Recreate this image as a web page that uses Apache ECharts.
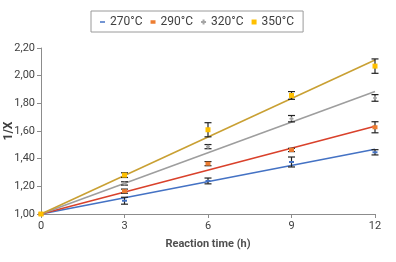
<!DOCTYPE html>
<html><head><meta charset="utf-8">
<script src="https://cdn.jsdelivr.net/npm/echarts@6/dist/echarts.min.js"></script>
<style>html,body{margin:0;padding:0;background:#fff}#c{width:396px;height:262px}</style>
</head><body><div id="c"></div>
<script>
var names = ['270°C','290°C','320°C','350°C'];
var times = [0,3,6,9,12];
var v270 = [1.00,1.096,1.239,1.376,1.446];
var v290 = [1.00,1.165,1.364,1.463,1.627];
var v320 = [1.00,1.221,1.487,1.689,1.839];
var v350 = [1.00,1.281,1.609,1.857,2.069];
var e270 = [0,0.025,0.021,0.036,0.019];
var e290 = [0,0.015,0.015,0.012,0.04];
var e320 = [0,0.012,0.015,0.023,0.024];
var e350 = [0,0.017,0.051,0.028,0.052];
var trendEnd = [1.468,1.635,1.885,2.113];
var yTicks = [1.0,1.2,1.4,1.6,1.8,2.0,2.2];

var vals=[v270,v290,v320,v350], errs=[e270,e290,e320,e350];
var markerColors=['#4472C4','#ED7D31','#A5A5A5','#FFC000'];
var lineColors=['#4472C4','#D9412B','#9E9E9E','#C9A033'];
var symbols=['path://M0,0h10v3h-10z','path://M0,0h10v7h-10z','path://M3,0h4v3h3v4h-3v3h-4v-3h-3v-4h3z','rect'];
var symSizes=[[5,2],[5,4],[4,4],[5,5]];

var series=[];
for(var i=0;i<4;i++){
  series.push({type:'line',name:names[i]+' trend',data:[[0,1],[12,trendEnd[i]]],showSymbol:false,silent:true,
    lineStyle:{color:lineColors[i],width:1.6},z:2});
}
for(var i=0;i<4;i++){
  (function(i){
  var d=[];
  for(var k=1;k<times.length;k++) d.push([times[k],vals[i][k]-errs[i][k],vals[i][k]+errs[i][k]]);
  series.push({type:'custom',name:names[i]+' err',data:d,silent:true,z:3,
    renderItem:function(params,api){
      var p1=api.coord([api.value(0),api.value(1)]);
      var p2=api.coord([api.value(0),api.value(2)]);
      var w=3.5;
      var st={stroke:'#222',lineWidth:1.2};
      return {type:'group',children:[
        {type:'line',shape:{x1:p1[0],y1:p1[1],x2:p2[0],y2:p2[1]},style:st},
        {type:'line',shape:{x1:p1[0]-w,y1:p1[1],x2:p1[0]+w,y2:p1[1]},style:st},
        {type:'line',shape:{x1:p2[0]-w,y1:p2[1],x2:p2[0]+w,y2:p2[1]},style:st}
      ]};
    }});
  })(i);
}
for(var i=0;i<4;i++){
  var d=[];
  for(var k=0;k<times.length;k++) d.push([times[k],vals[i][k]]);
  series.push({type:'scatter',name:names[i],data:d,symbol:symbols[i],symbolSize:symSizes[i],
    itemStyle:{color:markerColors[i],opacity:1},z:4});
}

var chart=echarts.init(document.getElementById('c'));
chart.setOption({
  animation:false,
  textStyle:{fontFamily:'Roboto'},
  legend:{data:names.map(function(n,i){return {name:n,icon:symbols[i]};}),
    left:91,top:11,padding:[5,9,4,9],borderColor:'#9a9a9a',borderWidth:1,
    itemWidth:5,itemHeight:5,itemGap:8,
    textStyle:{color:'#404040',fontSize:12,fontFamily:'Roboto'}},
  grid:{left:41,right:21,top:48,bottom:48,containLabel:false,outerBoundsMode:'none'},
  xAxis:{type:'value',min:0,max:12,interval:3,
    name:'Reaction time (h)',nameLocation:'middle',nameGap:25,nameMoveOverlap:false,
    nameTextStyle:{color:'#505050',fontSize:11,fontWeight:'bold',fontFamily:'Roboto'},
    axisLine:{lineStyle:{color:'#8c8c8c'}},axisTick:{show:true,length:4,lineStyle:{color:'#8c8c8c'}},
    axisLabel:{color:'#404040',fontSize:11,margin:7},splitLine:{show:false}},
  yAxis:{type:'value',min:1,max:2.2,interval:0.2,
    name:'1/X',nameLocation:'middle',nameGap:26,nameRotate:90,nameMoveOverlap:false,
    nameTextStyle:{color:'#404040',fontSize:12,fontWeight:'bold',fontFamily:'Roboto'},
    axisLine:{show:true,lineStyle:{color:'#8c8c8c'}},axisTick:{show:true,length:4,lineStyle:{color:'#8c8c8c'}},
    axisLabel:{color:'#404040',fontSize:11,margin:6,formatter:function(v){return v.toFixed(2).replace('.',',');}},
    splitLine:{show:false}},
  series:series
});
</script></body></html>
